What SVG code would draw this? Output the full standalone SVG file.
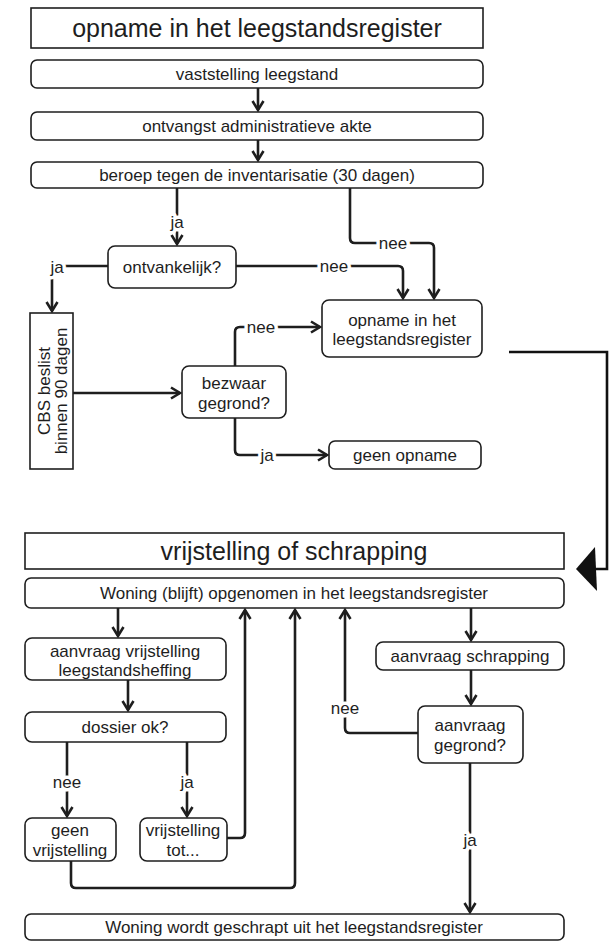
<svg xmlns="http://www.w3.org/2000/svg" width="614" height="941" viewBox="0 0 614 941">
<style>
  .bg { fill: #ffffff; }
  .box { fill: #ffffff; stroke: #1e1e1e; stroke-width: 1.6; }
  .t { font-family: "Liberation Sans", Arial, sans-serif; font-size: 17px; fill: #1e1e1e; text-anchor: middle; }
  .h { font-family: "Liberation Sans", Arial, sans-serif; font-size: 25px; fill: #1e1e1e; text-anchor: middle; }
  .c { fill: none; stroke: #1e1e1e; stroke-width: 2.6; stroke-linejoin: round; }
  .lbl { font-family: "Liberation Sans", Arial, sans-serif; font-size: 17px; fill: #1e1e1e; text-anchor: middle; paint-order: stroke; stroke: #ffffff; stroke-width: 7px; stroke-linejoin: round; }
</style>
<defs>
  <marker id="a" markerWidth="16" markerHeight="16" viewBox="-12 -8 16 16" refX="0" refY="0" orient="auto" markerUnits="userSpaceOnUse">
    <path d="M-9,-5.5 L0,0 L-9,5.5" fill="none" stroke="#1e1e1e" stroke-width="2.6"/>
  </marker>
</defs>
<rect class="bg" x="0" y="0" width="614" height="941"/>

<g id="connectors">
  <path class="c" d="M258,88 V110" marker-end="url(#a)"/>
  <path class="c" d="M258,140 V160" marker-end="url(#a)"/>
  <path class="c" d="M177,188 V244" marker-end="url(#a)"/>
  <path class="c" d="M350,188 V238 Q350,243 355,243 H429 Q434,243 434,248 V298" marker-end="url(#a)"/>
  <path class="c" d="M236,266 H398 Q403,266 403,271 V298" marker-end="url(#a)"/>
  <path class="c" d="M108,266 H52 V311" marker-end="url(#a)"/>
  <path class="c" d="M73,393 H180" marker-end="url(#a)"/>
  <path class="c" d="M235,366 V332 Q235,327 240,327 H320" marker-end="url(#a)"/>
  <path class="c" d="M235,418 V450 Q235,455 240,455 H327" marker-end="url(#a)"/>
  <path d="M509,352 H607 V569 H594" fill="none" stroke="#111" stroke-width="2.6"/>
  <polygon points="576,569 595,547 597,591" fill="#111"/>

  <path class="c" d="M118,608 V636" marker-end="url(#a)"/>
  <path class="c" d="M128,680 V710" marker-end="url(#a)"/>
  <path class="c" d="M67,742 V816" marker-end="url(#a)"/>
  <path class="c" d="M187,742 V816" marker-end="url(#a)"/>
  <path class="c" d="M227,838 H240 Q245,838 245,833 V610" marker-end="url(#a)"/>
  <path class="c" d="M71,861 V883 Q71,888 76,888 H290 Q295,888 295,883 V610" marker-end="url(#a)"/>
  <path class="c" d="M471,608 V640" marker-end="url(#a)"/>
  <path class="c" d="M471,670 V704" marker-end="url(#a)"/>
  <path class="c" d="M418,733 H350 Q345,733 345,728 V610" marker-end="url(#a)"/>
  <path class="c" d="M470,763 V912" marker-end="url(#a)"/>

  <text class="lbl" x="177" y="228">ja</text>
  <text class="lbl" x="393" y="249">nee</text>
  <text class="lbl" x="334" y="272">nee</text>
  <text class="lbl" x="57" y="273">ja</text>
  <text class="lbl" x="261" y="333">nee</text>
  <text class="lbl" x="267" y="461">ja</text>
  <text class="lbl" x="67" y="788">nee</text>
  <text class="lbl" x="187" y="788">ja</text>
  <text class="lbl" x="345" y="714">nee</text>
  <text class="lbl" x="470" y="846">ja</text>
</g>

<g id="title1">
  <rect class="box" x="31" y="8" width="452" height="40"/>
  <text class="h" x="257" y="37">opname in het leegstandsregister</text>
</g>
<g id="vaststelling">
  <rect class="box" x="31" y="60" width="452" height="28" rx="6"/>
  <text class="t" x="257" y="80">vaststelling leegstand</text>
</g>
<g id="ontvangst">
  <rect class="box" x="31" y="112" width="452" height="28" rx="6"/>
  <text class="t" x="257" y="132">ontvangst administratieve akte</text>
</g>
<g id="beroep">
  <rect class="box" x="31" y="162" width="452" height="26" rx="6"/>
  <text class="t" x="257" y="181">beroep tegen de inventarisatie (30 dagen)</text>
</g>
<g id="ontvankelijk">
  <rect class="box" x="108" y="246" width="128" height="42" rx="7"/>
  <text class="t" x="172" y="273">ontvankelijk?</text>
</g>
<g id="opname">
  <rect class="box" x="322" y="300" width="160" height="57" rx="7"/>
  <text class="t" x="402" y="326">opname in het</text>
  <text class="t" x="402" y="345">leegstandsregister</text>
</g>
<g id="cbs">
  <rect class="box" x="30" y="313" width="43" height="156"/>
  <text class="t" transform="translate(50,391) rotate(-90)">CBS beslist</text>
  <text class="t" transform="translate(67,391) rotate(-90)">binnen 90 dagen</text>
</g>
<g id="bezwaar">
  <rect class="box" x="182" y="366" width="104" height="52" rx="7"/>
  <text class="t" x="234" y="389">bezwaar</text>
  <text class="t" x="234" y="409">gegrond?</text>
</g>
<g id="geen-opname">
  <rect class="box" x="329" y="441" width="152" height="28" rx="6"/>
  <text class="t" x="405" y="461">geen opname</text>
</g>

<g id="title2">
  <rect class="box" x="25" y="533" width="539" height="36"/>
  <text class="h" x="294" y="560">vrijstelling of schrapping</text>
</g>
<g id="woning">
  <rect class="box" x="25" y="578" width="539" height="30" rx="6"/>
  <text class="t" x="294" y="599">Woning (blijft) opgenomen in het leegstandsregister</text>
</g>
<g id="aanvraag-vrijstelling">
  <rect class="box" x="25" y="638" width="201" height="42" rx="7"/>
  <text class="t" x="125" y="657">aanvraag vrijstelling</text>
  <text class="t" x="125" y="676">leegstandsheffing</text>
</g>
<g id="dossier">
  <rect class="box" x="25" y="712" width="201" height="30" rx="7"/>
  <text class="t" x="125" y="733">dossier ok?</text>
</g>
<g id="aanvraag-schrapping">
  <rect class="box" x="376" y="642" width="188" height="28" rx="7"/>
  <text class="t" x="470" y="662">aanvraag schrapping</text>
</g>
<g id="aanvraag-gegrond">
  <rect class="box" x="418" y="706" width="105" height="57" rx="7"/>
  <text class="t" x="470" y="731">aanvraag</text>
  <text class="t" x="470" y="751">gegrond?</text>
</g>
<g id="geen-vrijstelling">
  <rect class="box" x="25" y="818" width="91" height="43" rx="7"/>
  <text class="t" x="70" y="836">geen</text>
  <text class="t" x="70" y="856">vrijstelling</text>
</g>
<g id="vrijstelling-tot">
  <rect class="box" x="140" y="818" width="87" height="43" rx="7"/>
  <text class="t" x="183" y="836">vrijstelling</text>
  <text class="t" x="183" y="856">tot...</text>
</g>
<g id="geschrapt">
  <rect class="box" x="25" y="914" width="539" height="26" rx="6"/>
  <text class="t" x="294" y="933">Woning wordt geschrapt uit het leegstandsregister</text>
</g>
</svg>
